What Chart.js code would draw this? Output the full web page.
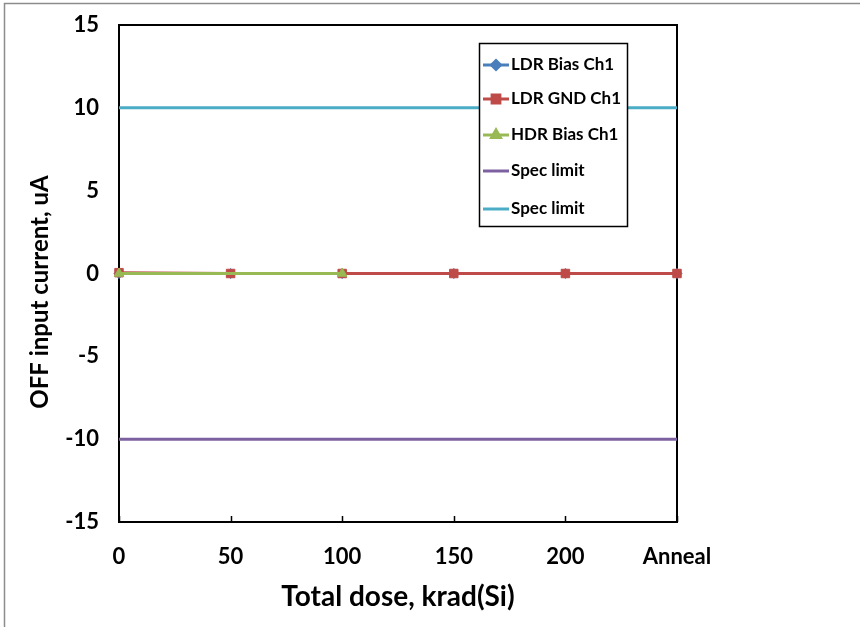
<!DOCTYPE html>
<html>
<head>
<meta charset="utf-8">
<script src="https://cdn.jsdelivr.net/npm/chart.js@4"></script>
<style>
html,body{margin:0;padding:0;background:#fff;}
#wrap{width:860px;height:627px;position:relative;}
</style>
</head>
<body>
<div id="wrap"><canvas id="c" width="860" height="627"></canvas></div>
<script>
// ---- data ----
const doseValues = [0, 50, 100, 150, 200, 250];
const xTickLabels = {250: 'Anneal'};
const ldrBias = [0, 0, 0, 0, 0, 0];
const ldrGnd = [0.05, 0, 0, 0, 0, 0];
const hdrDose = [0, 100];
const hdrBias = [0, 0];
const specDose = [0, 250];
const specLow = [-10, -10];
const specHigh = [10, 10];
const seriesNames = ['LDR Bias Ch1', 'LDR GND Ch1', 'HDR Bias Ch1', 'Spec limit', 'Spec limit'];
const xTitle = 'Total dose, krad(Si)';
const yTitle = 'OFF input current, uA';

const pts = (xs, ys) => xs.map((x, i) => ({x: x, y: ys[i]}));
const FONT = 'Lato, "Open Sans", sans-serif';

const colors = ['#4A7EBB', '#BE4B48', '#98B954', '#7D60A0', '#4BACC6'];

const datasets = [
  {label: seriesNames[0], data: pts(doseValues, ldrBias), order: 3, pointStyle: 'rectRot', pointRadius: 5},
  {label: seriesNames[1], data: pts(doseValues, ldrGnd), order: 2, pointStyle: 'rect', pointRadius: 6},
  {label: seriesNames[2], data: pts(hdrDose, hdrBias), order: 1, pointStyle: 'triangle', pointRadius: 5.5},
  {label: seriesNames[3], data: pts(specDose, specLow), order: 4, pointRadius: 0},
  {label: seriesNames[4], data: pts(specDose, specHigh), order: 5, pointRadius: 0}
].map((d, i) => Object.assign(d, {
  borderColor: colors[i], backgroundColor: colors[i], pointBorderColor: colors[i],
  pointBackgroundColor: colors[i], borderWidth: 3, showLine: true, clip: false,
  pointBorderWidth: 1, tension: 0
}));

const framePlugin = {
  id: 'frame',
  beforeDraw(chart) {
    const ctx = chart.ctx;
    ctx.save();
    ctx.strokeStyle = '#8c8c8c';
    ctx.lineWidth = 1.5;
    ctx.beginPath();
    ctx.moveTo(4.5, 627); ctx.lineTo(4.5, 3.5); ctx.lineTo(860, 3.5);
    ctx.stroke();
    ctx.restore();
  },
  beforeDatasetsDraw(chart) {
    const ctx = chart.ctx, a = chart.chartArea, xs = chart.scales.x;
    ctx.save();
    ctx.strokeStyle = '#000';
    ctx.lineWidth = 2;
    ctx.strokeRect(a.left, a.top, a.right - a.left, a.bottom - a.top);
    ctx.beginPath();
    xs.ticks.forEach(t => {
      const px = Math.round(xs.getPixelForValue(t.value)) + 0.5;
      ctx.moveTo(px, a.bottom); ctx.lineTo(px, a.bottom - 6);
    });
    ctx.lineWidth = 1.5;
    ctx.stroke();
    ctx.restore();
  },
  afterDraw(chart) {
    const ctx = chart.ctx, a = chart.chartArea;
    ctx.save();
    ctx.fillStyle = '#000';
    ctx.textAlign = 'center';
    ctx.textBaseline = 'middle';
    ctx.font = 'bold 28px ' + FONT;
    ctx.fillText(xTitle, (a.left + a.right) / 2, 597);
    ctx.font = 'bold 24px ' + FONT;
    ctx.translate(40, 292);
    ctx.rotate(-Math.PI / 2);
    ctx.fillText(yTitle, 0, 0);
    ctx.restore();

    // legend box
    ctx.save();
    const bx = 479, by = 43, bw = 148, bh = 183;
    ctx.fillStyle = '#fff';
    ctx.fillRect(bx, by, bw, bh);
    ctx.strokeStyle = '#000';
    ctx.lineWidth = 1.5;
    ctx.strokeRect(bx + 0.5, by + 0.5, bw, bh);
    const rowsY = [65, 99, 135, 171, 209];
    chart.data.datasets.forEach((ds, i) => {
      const y = rowsY[i];
      ctx.strokeStyle = ds.borderColor;
      ctx.lineWidth = 3;
      ctx.beginPath();
      ctx.moveTo(483, y); ctx.lineTo(509, y);
      ctx.stroke();
      if (ds.pointRadius > 0) {
        Chart.helpers.drawPoint(ctx, {pointStyle: ds.pointStyle, radius: ds.pointRadius - 0.5, borderWidth: 1, rotation: 0}, 496, y);
        ctx.fillStyle = ds.backgroundColor;
        ctx.fill();
      }
      ctx.fillStyle = '#000';
      ctx.font = 'bold 17px ' + FONT;
      ctx.textAlign = 'left';
      ctx.textBaseline = 'middle';
      ctx.fillText(ds.label, 511, y);
    });
    ctx.restore();
  }
};

new Chart(document.getElementById('c'), {
  type: 'scatter',
  data: {datasets: datasets},
  options: {
    responsive: false,
    animation: false,
    devicePixelRatio: 1,
    layout: {padding: {left: 0, top: 25, right: 183, bottom: 0}},
    plugins: {legend: {display: false}, tooltip: {enabled: false}, title: {display: false}},
    scales: {
      x: {
        type: 'linear', min: 0, max: 250,
        afterFit(s) { s.height = 105; s.paddingLeft = 0; s.paddingRight = 0; },
        grid: {display: false, drawTicks: false},
        border: {display: false},
        ticks: {
          stepSize: 50, padding: 22, maxRotation: 0, color: '#000',
          font: {family: FONT, weight: 'bold', size: 22},
          callback: v => (xTickLabels[v] !== undefined ? xTickLabels[v] : v)
        }
      },
      y: {
        type: 'linear', min: -15, max: 15,
        afterFit(s) { s.width = 119; s.paddingTop = 0; s.paddingBottom = 0; },
        grid: {display: false, drawTicks: false},
        border: {display: false},
        ticks: {
          stepSize: 5, padding: 20, color: '#000',
          font: {family: FONT, weight: 'bold', size: 22}
        }
      }
    }
  },
  plugins: [framePlugin]
});
</script>
</body>
</html>
